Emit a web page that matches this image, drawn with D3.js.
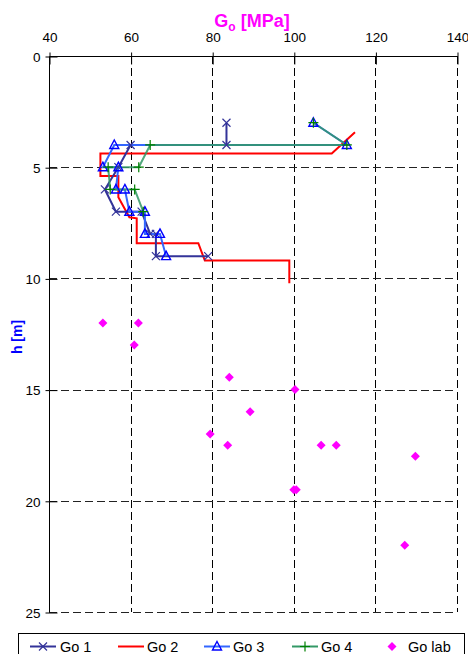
<!DOCTYPE html>
<html>
<head>
<meta charset="utf-8">
<script src="https://cdn.jsdelivr.net/npm/d3@7"></script>
<style>
  html, body { margin: 0; padding: 0; background: #fff; }
  svg { display: block; font-family: "Liberation Sans", Arial, sans-serif; }
</style>
</head>
<body>
<svg id="chart" width="468" height="654"></svg>
<script>
// Shear modulus profiles G0 against depth h
const xTicks = [40, 60, 80, 100, 120, 140];
const yTicks = [0, 5, 10, 15, 20, 25];

const go1G = [83.5, 83.5, 60, 57, 53.7, 56.4, 62.7, 64.8, 66.2, 66.2, 79];
const go1H = [3, 4, 4, 5, 6, 7, 7, 8, 8, 9, 9];

const go2G = [115, 109.3, 52.6, 52.6, 57, 57, 59.7, 61.5, 61.5, 76.6, 78.2, 98.9, 98.9];
const go2H = [3.43, 4.38, 4.38, 5.4, 5.4, 6.35, 7.25, 7.3, 8.42, 8.42, 9.2, 9.2, 10.22];

const go3G = [104.8, 113, 56, 53.2, 57, 56.4, 58.6, 59.7, 63.5, 63.5, 67.2, 68.7];
const go3H = [3, 4, 4, 5, 5, 6, 6, 7, 7, 8, 8, 9];

const go4G = [104.8, 113, 64.8, 62, 54.5, 55, 61, 63.1];
const go4H = [3, 4, 4, 5, 5, 6, 6, 7];

const labG = [53.2, 61.9, 60.9, 84.2, 100.3, 89.3, 79.5, 83.8, 106.7, 110.4, 129.8, 100, 100.6, 127.2];
const labH = [12, 12, 13, 14.45, 15, 16, 17, 17.5, 17.5, 17.5, 18, 19.5, 19.5, 22];

const legendNames = ["Go 1", "Go 2", "Go 3", "Go 4", "Go lab"];

const svg = d3.select("#chart");
const M = { left: 49, top: 56, right: 457, bottom: 612 };

const x = d3.scaleLinear().domain([40, 140]).range([M.left, M.right]);
const y = d3.scaleLinear().domain([0, 25]).range([M.top, M.bottom]);

const C1 = "#333399", C2 = "#ff0000", C3 = "#3366ff", C4 = "#339966", CL = "#ff00ff";

// dashed grid
const grid = svg.append("g");
grid.selectAll("line.v").data(xTicks.slice(1)).join("line")
  .attr("x1", d => Math.round(x(d)) + 0.5).attr("x2", d => Math.round(x(d)) + 0.5)
  .attr("y1", M.top).attr("y2", M.bottom)
  .attr("stroke", "#000").attr("stroke-width", 1).attr("stroke-dasharray", "8,4");
grid.selectAll("line.h").data(yTicks.slice(1)).join("line")
  .attr("y1", d => Math.round(y(d)) + 0.5).attr("y2", d => Math.round(y(d)) + 0.5)
  .attr("x1", M.left).attr("x2", M.right)
  .attr("stroke", "#222").attr("stroke-width", 1).attr("stroke-dasharray", "8,4");

// axes
const xAxis = svg.append("g").attr("transform", `translate(0.5,${M.top + 0.5})`)
  .call(d3.axisTop(x).tickValues(xTicks).tickSize(0).tickPadding(0));
xAxis.select(".domain").attr("d", `M${M.left},0H${M.right}`).attr("stroke", "#000");
xAxis.selectAll(".tick line").attr("y1", -4).attr("y2", 8).attr("stroke", "#000");
xAxis.selectAll(".tick text").attr("y", -15).attr("dy", 0)
  .style("font-size", "13.5px").attr("fill", "#000").attr("font-family", "Liberation Sans, Arial, sans-serif");

const yAxis = svg.append("g").attr("transform", `translate(${M.left + 0.5},0.5)`)
  .call(d3.axisLeft(y).tickValues(yTicks).tickSize(0).tickPadding(0));
yAxis.select(".domain").attr("d", `M0,${M.top}V${M.bottom}`).attr("stroke", "#000");
yAxis.selectAll(".tick line").attr("x1", -4).attr("x2", 8).attr("stroke", "#000");
yAxis.selectAll(".tick text").attr("x", -9).attr("dy", "0.35em")
  .style("font-size", "13.5px").attr("fill", "#000").attr("font-family", "Liberation Sans, Arial, sans-serif");

// axis titles
const title = svg.append("text").attr("x", 252).attr("y", 27).attr("text-anchor", "middle")
  .attr("fill", CL).attr("font-weight", "bold").style("font-size", "18px");
title.append("tspan").text("G");
title.append("tspan").text("o").attr("dy", 4).style("font-size", "12px");
title.append("tspan").text(" [MPa]").attr("dy", -4);

svg.append("text").attr("transform", `translate(22,${(M.top + M.bottom) / 2 + 3}) rotate(-90)`)
  .attr("text-anchor", "middle").attr("fill", "#0000ff").attr("font-weight", "bold")
  .style("font-size", "14px").text("h [m]");

// markers
function drawMarker(g, type, cx, cy) {
  if (type === "x") {
    g.append("path").attr("d", `M${cx - 4},${cy - 4}L${cx + 4},${cy + 4}M${cx - 4},${cy + 4}L${cx + 4},${cy - 4}`)
      .attr("stroke", C1).attr("stroke-width", 1.2).attr("fill", "none");
  } else if (type === "tri") {
    g.append("path").attr("d", `M${cx},${cy - 5}L${cx + 4.5},${cy + 3.5}L${cx - 4.5},${cy + 3.5}Z`)
      .attr("stroke", "#0000ff").attr("stroke-width", 1.4).attr("fill", "none");
  } else if (type === "plus") {
    g.append("path").attr("d", `M${cx - 5},${cy}L${cx + 5},${cy}M${cx},${cy - 5}L${cx},${cy + 5}`)
      .attr("stroke", "#008000").attr("stroke-width", 1.2).attr("fill", "none");
  } else if (type === "dia") {
    g.append("path").attr("d", `M${cx},${cy - 4.5}L${cx + 4.5},${cy}L${cx},${cy + 4.5}L${cx - 4.5},${cy}Z`)
      .attr("fill", CL).attr("stroke", "none");
  }
}

const line = d3.line().x(d => x(d[0])).y(d => y(d[1]));
const zip = (a, b) => a.map((v, i) => [v, b[i]]);

const series = [
  { pts: zip(go2G, go2H), color: C2, marker: null },
  { pts: zip(go1G, go1H), color: C1, marker: "x" },
  { pts: zip(go3G, go3H), color: C3, marker: "tri" },
  { pts: zip(go4G, go4H), color: C4, marker: "plus", opacity: 0.85 }
];

const plot = svg.append("g");
series.forEach(s => {
  plot.append("path").datum(s.pts).attr("d", line)
    .attr("fill", "none").attr("stroke", s.color).attr("stroke-width", 2)
    .attr("stroke-opacity", s.opacity || 1).attr("stroke-linejoin", "miter");
});
series.forEach(s => {
  if (!s.marker) return;
  const g = plot.append("g");
  s.pts.forEach(p => drawMarker(g, s.marker, x(p[0]), y(p[1])));
});
const labLayer = plot.append("g");
zip(labG, labH).forEach(p => drawMarker(labLayer, "dia", x(p[0]), y(p[1])));

// legend
const lg = svg.append("g");
lg.append("rect").attr("x", 18.5).attr("y", 633.5).attr("width", 446).attr("height", 40)
  .attr("fill", "#fff").attr("stroke", "#000").attr("stroke-width", 1);
const legendItems = [
  { x0: 30, color: C1, marker: "x", tx: 60 },
  { x0: 118, color: C2, marker: null, tx: 147 },
  { x0: 204, color: C3, marker: "tri", tx: 233 },
  { x0: 292, color: C4, marker: "plus", tx: 321 },
  { x0: null, color: CL, marker: "dia", tx: 408, mx: 392 }
];
const ly = 646.5;
legendItems.forEach((it, i) => {
  if (it.x0 !== null) {
    lg.append("line").attr("x1", it.x0).attr("x2", it.x0 + 26).attr("y1", ly).attr("y2", ly)
      .attr("stroke", it.color).attr("stroke-width", 2);
    if (it.marker) drawMarker(lg, it.marker, it.x0 + 13, ly);
  } else {
    drawMarker(lg, it.marker, it.mx, ly);
  }
  lg.append("text").attr("x", it.tx).attr("y", ly).attr("dy", "0.36em")
    .style("font-size", "14.5px").attr("fill", "#000").text(legendNames[i]);
});
</script>
</body>
</html>
